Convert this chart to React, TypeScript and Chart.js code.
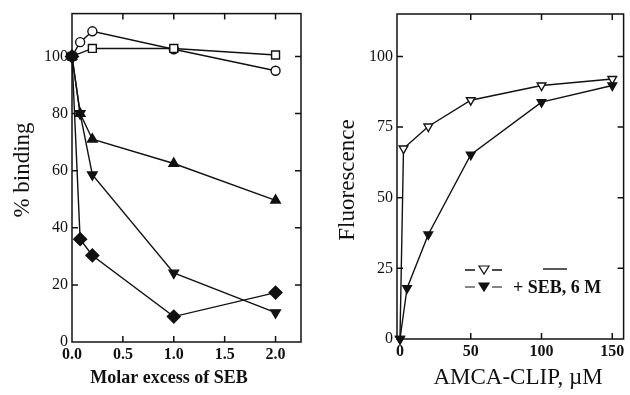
import React, { useEffect, useRef } from "react";
import { Chart, registerables } from "chart.js";
Chart.register(...registerables);

// ---------- Left panel data ----------
const circleX = [0, 0.08, 0.2, 1, 2];
const circleY = [100, 105, 108.8, 102.5, 95];
const squareX = [0, 0.2, 1, 2];
const squareY = [100, 102.8, 102.8, 100.5];
const triUpX = [0, 0.08, 0.2, 1, 2];
const triUpY = [100, 80, 71, 62.5, 49.6];
const triDownX = [0, 0.08, 0.2, 1, 2];
const triDownY = [100, 80, 58.6, 24.2, 10.3];
const diamondX = [0, 0.08, 0.2, 1, 2];
const diamondY = [100, 36, 30.3, 8.9, 17.3];
const leftXTicks = [0, 0.5, 1, 1.5, 2];
const leftYTicks = [0, 20, 40, 60, 80, 100];

// ---------- Right panel data ----------
const openConc = [0, 2.5, 20, 50, 100, 150];
const openFluor = [0, 67.4, 75.2, 84.5, 89.7, 92];
const sebConc = [0, 5, 20, 50, 100, 150];
const sebFluor = [0, 18, 37, 65.2, 83.8, 89.7];
const rightXTicks = [0, 50, 100, 150];
const rightYTicks = [0, 25, 50, 75, 100];
const legendLabel = "+ SEB, 6 M";

const SERIF = "'Liberation Serif', 'DejaVu Serif', serif";
const INK = "#111";

const pts = (xs: number[], ys: number[]) => xs.map((x, i) => ({ x, y: ys[i] }));

function ds(data: any, style: string, fill: boolean, radius: number, rotation = 0) {
  return {
    data,
    showLine: true,
    borderColor: INK,
    borderWidth: 1.4,
    pointStyle: style,
    pointRotation: rotation,
    pointRadius: radius,
    pointBorderWidth: 1.4,
    pointBorderColor: INK,
    pointBackgroundColor: fill ? INK : "#fff",
    clip: false,
    tension: 0,
  };
}

const framePlugin = {
  id: "frame",
  afterDraw(chart: any, _args: any, opts: any) {
    const { ctx, chartArea: a, scales } = chart;
    ctx.save();
    ctx.strokeStyle = INK;
    ctx.lineWidth = 1.5;
    ctx.strokeRect(a.left, a.top, a.right - a.left, a.bottom - a.top);
    const L = 6;
    ctx.beginPath();
    (opts.xt as number[]).forEach((v) => {
      const px = scales.x.getPixelForValue(v);
      if (px - a.left < 3) return;
      ctx.moveTo(px, a.bottom);
      ctx.lineTo(px, a.bottom - L);
      ctx.moveTo(px, a.top);
      ctx.lineTo(px, a.top + L);
    });
    (opts.yt as number[]).forEach((v) => {
      const py = scales.y.getPixelForValue(v);
      if (a.bottom - py < 3) return;
      ctx.moveTo(a.left, py);
      ctx.lineTo(a.left + L, py);
      ctx.moveTo(a.right, py);
      ctx.lineTo(a.right - L, py);
    });
    ctx.stroke();
    // titles
    ctx.fillStyle = INK;
    ctx.textAlign = "center";
    ctx.textBaseline = "middle";
    ctx.font = opts.xFont;
    ctx.fillText(opts.xTitle, opts.xPos[0], opts.xPos[1]);
    ctx.save();
    ctx.translate(opts.yPos[0], opts.yPos[1]);
    ctx.rotate(-Math.PI / 2);
    ctx.font = opts.yFont;
    ctx.fillText(opts.yTitle, 0, 0);
    ctx.restore();
    if (opts.legend) opts.legend(ctx);
    ctx.restore();
  },
};

function drawTri(ctx: any, x: number, y: number, r: number, filled: boolean) {
  ctx.beginPath();
  ctx.moveTo(x - r, y - r * 0.6);
  ctx.lineTo(x + r, y - r * 0.6);
  ctx.lineTo(x, y + r * 1.0);
  ctx.closePath();
  ctx.fillStyle = filled ? INK : "#fff";
  ctx.fill();
  ctx.lineWidth = 1.2;
  ctx.strokeStyle = INK;
  ctx.stroke();
}

function rightLegend(ctx: any) {
  const rows = [
    { y: 270, filled: false },
    { y: 287, filled: true },
  ];
  ctx.lineWidth = 1.4;
  ctx.strokeStyle = INK;
  rows.forEach((r) => {
    ctx.beginPath();
    ctx.moveTo(145, r.y);
    ctx.lineTo(155, r.y);
    ctx.moveTo(172, r.y);
    ctx.lineTo(182, r.y);
    ctx.stroke();
    drawTri(ctx, 164, r.y - 1, 5, r.filled);
  });
  ctx.beginPath();
  ctx.lineWidth = 1.4;
  ctx.moveTo(223, 269);
  ctx.lineTo(247, 269);
  ctx.stroke();
  ctx.fillStyle = INK;
  ctx.font = `bold 18px ${SERIF}`;
  ctx.textAlign = "left";
  ctx.textBaseline = "middle";
  ctx.fillText(legendLabel, 193, 288);
}

function makeOptions(p: any) {
  return {
    animation: false,
    responsive: false,
    maintainAspectRatio: false,
    layout: { padding: p.padding },
    plugins: {
      legend: { display: false },
      tooltip: { enabled: false },
      frame: p.frame,
    },
    scales: {
      x: {
        type: "linear",
        min: p.xMin,
        max: p.xMax,
        grid: { display: false, drawTicks: false },
        border: { display: false },
        afterBuildTicks: (s: any) => {
          s.ticks = p.xTicks.map((v: number) => ({ value: v }));
        },
        afterFit: (s: any) => {
          s.height = p.xHeight;
        },
        ticks: {
          padding: 3,
          color: INK,
          maxRotation: 0,
          autoSkip: false,
          font: { family: SERIF, size: 16, weight: "bold" },
          callback: p.xFmt,
        },
      },
      y: {
        type: "linear",
        min: 0,
        max: 115,
        grid: { display: false, drawTicks: false },
        border: { display: false },
        afterBuildTicks: (s: any) => {
          s.ticks = p.yTicks.map((v: number) => ({ value: v }));
        },
        afterFit: (s: any) => {
          s.width = p.yWidth;
        },
        ticks: {
          padding: 4,
          color: INK,
          autoSkip: false,
          font: { family: SERIF, size: 16 },
        },
      },
    },
  };
}

function Panel({ width, datasets, opts }: any) {
  const ref = useRef<HTMLCanvasElement>(null);
  useEffect(() => {
    const chart = new Chart(ref.current as any, {
      type: "scatter",
      data: { datasets },
      options: makeOptions(opts) as any,
      plugins: [framePlugin],
    });
    return () => chart.destroy();
  }, []);
  return <canvas ref={ref} width={width} height={395} style={{ display: "block", width, height: 395 }} />;
}

export default function App() {
  // first dataset is drawn on top in Chart.js, so filled markers come first
  const leftSets = [
    ds(pts(diamondX, diamondY), "rectRot", true, 6.4),
    ds(pts(triDownX, triDownY), "triangle", true, 5.5, 180),
    ds(pts(triUpX, triUpY), "triangle", true, 5.5),
    ds(pts(squareX, squareY), "rect", false, 5.6),
    ds(pts(circleX, circleY), "circle", false, 4.5),
  ];
  const rightSets = [
    ds(pts(sebConc, sebFluor), "triangle", true, 5, 180),
    ds(pts(openConc, openFluor), "triangle", false, 5, 180),
  ];
  const leftOpts = {
    padding: { left: 0, right: 19, top: 13, bottom: 0 },
    xMin: 0,
    xMax: 2.25,
    xTicks: leftXTicks,
    yTicks: leftYTicks,
    xHeight: 53,
    yWidth: 72,
    xFmt: (v: any) => Number(v).toFixed(1),
    frame: {
      xt: leftXTicks,
      yt: leftYTicks,
      xTitle: "Molar excess of SEB",
      xFont: `bold 18px ${SERIF}`,
      xPos: [169, 378],
      yTitle: "% binding",
      yFont: `23px ${SERIF}`,
      yPos: [23, 170],
    },
  };
  const rightOpts = {
    padding: { left: 0, right: 1, top: 14, bottom: 0 },
    xMin: -2.1,
    xMax: 158,
    xTicks: rightXTicks,
    yTicks: rightYTicks,
    xHeight: 56,
    yWidth: 77,
    xFmt: (v: any) => String(v),
    frame: {
      xt: rightXTicks,
      yt: rightYTicks,
      xTitle: "AMCA-CLIP, \u00b5M",
      xFont: `23px ${SERIF}`,
      xPos: [198, 378],
      yTitle: "Fluorescence",
      yFont: `23px ${SERIF}`,
      yPos: [28, 180],
      legend: rightLegend,
    },
  };
  return (
    <div style={{ position: "fixed", left: 0, top: 0, width: 630, height: 395, background: "#fff", display: "flex" }}>
      <Panel width={320} datasets={leftSets} opts={leftOpts} />
      <Panel width={310} datasets={rightSets} opts={rightOpts} />
    </div>
  );
}
